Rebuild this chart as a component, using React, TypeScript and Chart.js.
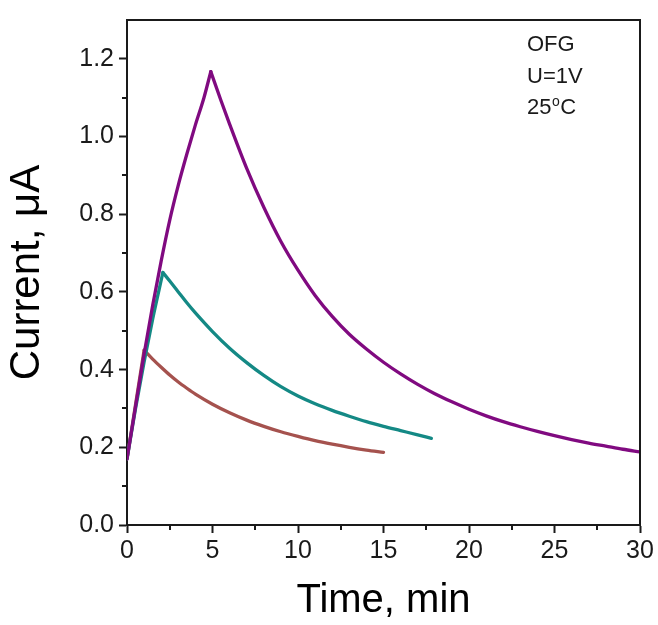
import React, { useEffect, useRef } from "react";
import { Chart, registerables } from "chart.js";

Chart.register(...registerables);

// ---- data ----
const purpleTime = [0, 0.5, 1, 1.5, 2, 2.5, 3, 3.5, 4, 4.5, 4.9, 5.5, 6, 7, 8, 9, 10, 11, 12, 13, 14, 15, 16, 17, 18, 19, 20, 21, 22, 23, 24, 25, 26, 27, 28, 29, 30];
const purpleCurrent = [0.17, 0.305, 0.44, 0.565, 0.68, 0.785, 0.875, 0.955, 1.03, 1.1, 1.167, 1.092, 1.032, 0.918, 0.818, 0.73, 0.656, 0.591, 0.537, 0.491, 0.453, 0.419, 0.389, 0.362, 0.338, 0.317, 0.298, 0.281, 0.266, 0.253, 0.241, 0.23, 0.22, 0.211, 0.203, 0.195, 0.188];

const tealTime = [0, 0.5, 1, 1.5, 2.1, 2.5, 3, 3.5, 4, 5, 6, 7, 8, 9, 10, 11, 12, 13, 14, 15, 16, 17, 17.8];
const tealCurrent = [0.17, 0.3, 0.42, 0.53, 0.65, 0.628, 0.6, 0.572, 0.546, 0.498, 0.455, 0.418, 0.385, 0.356, 0.332, 0.312, 0.295, 0.28, 0.266, 0.254, 0.243, 0.232, 0.223];

const brownTime = [0, 0.5, 1, 1.5, 2, 2.5, 3, 3.5, 4, 5, 6, 7, 8, 9, 10, 11, 12, 13, 14, 15];
const brownCurrent = [0.17, 0.31, 0.45, 0.427, 0.406, 0.386, 0.368, 0.352, 0.337, 0.311, 0.289, 0.27, 0.254, 0.24, 0.228, 0.217, 0.208, 0.2, 0.193, 0.187];

const seriesColors = ["#800a80", "#148985", "#a5524e"];

const xTickValues = [0, 5, 10, 15, 20, 25, 30];
const yTickValues = [0, 0.2, 0.4, 0.6, 0.8, 1.0, 1.2];
const xMinorTicks = [2.5, 7.5, 12.5, 17.5, 22.5, 27.5];
const yMinorTicks = [0.1, 0.3, 0.5, 0.7, 0.9, 1.1];

const xTitle = "Time, min";
const yTitle = "Current, \u03bcA";
const noteLines = ["OFG", "U=1V"];
const noteTemp = { base: "25", sup: "o", unit: "C" };

const FONT = "Arial, 'Liberation Sans', sans-serif";
const INK = "#1a1a1a";

const toPoints = (xs: number[], ys: number[]) => xs.map((x, i) => ({ x, y: ys[i] }));

// split a series at its peak into a charging and a discharging branch
function branches(xs: number[], ys: number[], color: string) {
  let k = 0;
  ys.forEach((v, i) => {
    if (v > ys[k]) k = i;
  });
  const pts = toPoints(xs, ys);
  const common = {
    borderColor: color,
    borderWidth: 3.3,
    pointRadius: 0,
    cubicInterpolationMode: "monotone" as const,
    borderCapStyle: "round" as const,
    borderJoinStyle: "round" as const,
  };
  return [
    { ...common, data: pts.slice(0, k + 1) },
    { ...common, data: pts.slice(k) },
  ];
}

const framePlugin = {
  id: "frameAndNotes",
  afterDraw(chart: any) {
    const { ctx, chartArea, scales } = chart;
    const { left, right, top, bottom } = chartArea;
    const xs = scales.x;
    const ys = scales.y;
    ctx.save();
    ctx.strokeStyle = INK;
    ctx.lineWidth = 2;
    ctx.beginPath();
    ctx.moveTo(left, top);
    ctx.lineTo(right, top);
    ctx.lineTo(right, bottom);
    ctx.stroke();

    ctx.beginPath();
    xMinorTicks.forEach((v) => {
      const px = Math.round(xs.getPixelForValue(v));
      ctx.moveTo(px, bottom);
      ctx.lineTo(px, bottom + 5);
    });
    yMinorTicks.forEach((v) => {
      const py = Math.round(ys.getPixelForValue(v));
      ctx.moveTo(left, py);
      ctx.lineTo(left - 5, py);
    });
    ctx.stroke();

    // annotation
    ctx.fillStyle = INK;
    ctx.textBaseline = "alphabetic";
    ctx.textAlign = "left";
    ctx.font = `22px ${FONT}`;
    const tx = right - 113;
    const lineGap = 31.5;
    let ty = top + 31;
    noteLines.forEach((t) => {
      ctx.fillText(t, tx, ty);
      ty += lineGap;
    });
    ctx.fillText(noteTemp.base, tx, ty);
    const w1 = ctx.measureText(noteTemp.base).width;
    ctx.font = `14px ${FONT}`;
    ctx.fillText(noteTemp.sup, tx + w1 + 0.5, ty - 8);
    const w2 = ctx.measureText(noteTemp.sup).width;
    ctx.font = `22px ${FONT}`;
    ctx.fillText(noteTemp.unit, tx + w1 + w2 + 1, ty);
    ctx.restore();
  },
};

export default function App() {
  const canvasRef = useRef<HTMLCanvasElement | null>(null);

  useEffect(() => {
    if (!canvasRef.current) return;
    const chart = new Chart(canvasRef.current, {
      type: "line",
      data: {
        datasets: [
          ...branches(purpleTime, purpleCurrent, seriesColors[0]),
          ...branches(tealTime, tealCurrent, seriesColors[1]),
          ...branches(brownTime, brownCurrent, seriesColors[2]),
        ],
      },
      options: {
        responsive: false,
        animation: false,
        devicePixelRatio: 1,
        layout: { padding: { left: 0, right: 18, top: 15, bottom: 0 } },
        plugins: { legend: { display: false }, tooltip: { enabled: false } },
        scales: {
          x: {
            type: "linear",
            min: 0,
            max: 30,
            afterBuildTicks: (s: any) => {
              s.ticks = xTickValues.map((value) => ({ value }));
            },
            afterFit: (s: any) => {
              s.height = 100;
            },
            ticks: {
              font: { family: FONT, size: 25 },
              color: INK,
              padding: 3,
              maxRotation: 0,
              callback: (v: any) => String(v),
            },
            grid: {
              drawOnChartArea: false,
              drawTicks: true,
              tickLength: 8,
              tickWidth: 2,
              tickColor: INK,
              color: INK,
            },
            border: { display: true, color: INK, width: 2 },
            title: {
              display: true,
              text: xTitle,
              color: "#000",
              font: { family: FONT, size: 40 },
              padding: { top: 0, bottom: 0 },
            },
          },
          y: {
            type: "linear",
            min: 0,
            max: 1.3,
            afterBuildTicks: (s: any) => {
              s.ticks = yTickValues.map((value) => ({ value }));
            },
            afterFit: (s: any) => {
              s.width = 127;
            },
            ticks: {
              font: { family: FONT, size: 25 },
              color: INK,
              padding: 5,
              callback: (v: any) => Number(v).toFixed(1),
            },
            grid: {
              drawOnChartArea: false,
              drawTicks: true,
              tickLength: 8,
              tickWidth: 2,
              tickColor: INK,
              color: INK,
            },
            border: { display: true, color: INK, width: 2 },
            title: {
              display: true,
              text: yTitle,
              color: "#000",
              font: { family: FONT, size: 42 },
              padding: { top: 2, bottom: 0 },
            },
          },
        },
      },
      plugins: [framePlugin],
    });
    return () => chart.destroy();
  }, []);

  return (
    <div style={{ position: "fixed", left: 0, top: 0, width: 658, height: 625, background: "#fff" }}>
      <canvas ref={canvasRef} width={658} height={625} style={{ display: "block" }} />
    </div>
  );
}
